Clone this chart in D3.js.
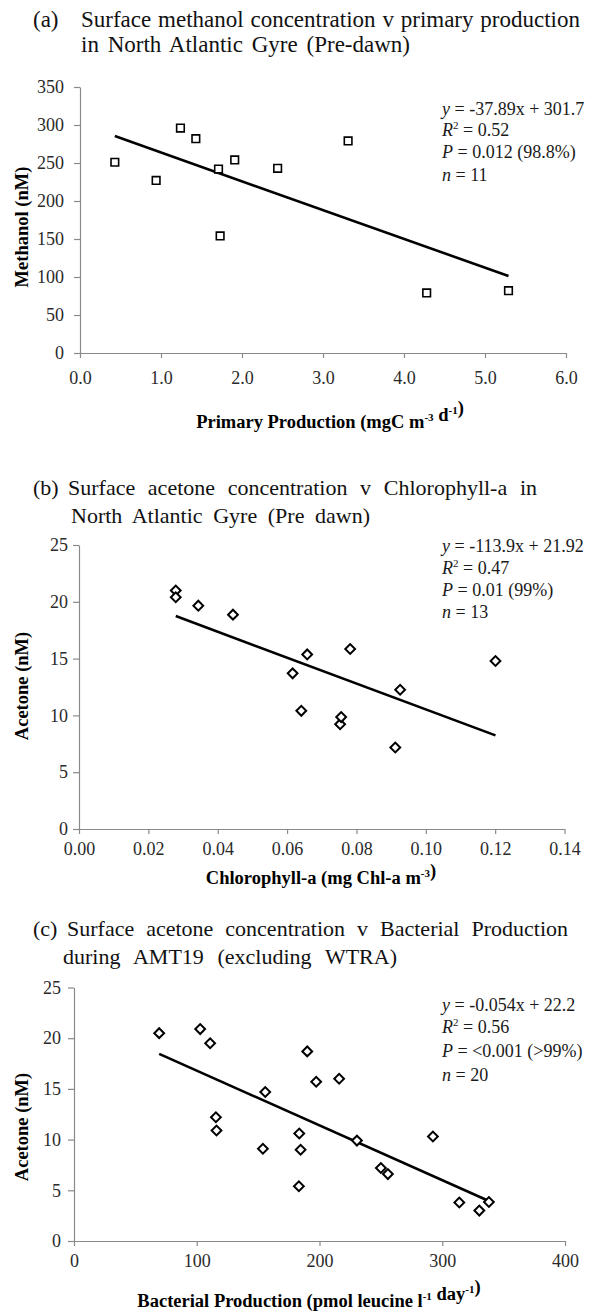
<!DOCTYPE html>
<html><head><meta charset="utf-8">
<script src="https://cdn.jsdelivr.net/npm/d3@7"></script>
<style>html,body{margin:0;padding:0;background:#fff;} svg{display:block;}</style>
</head><body><svg id="chart" width="593" height="1312"></svg>
<script>
// ---------- DATA ----------
// (a) methanol vs primary production
const ppValues = [0.43, 0.94, 1.24, 1.43, 1.71, 1.73, 1.91, 2.44, 3.31, 4.28, 5.29];
const methanolValues = [251, 227, 296, 282, 242, 154, 254, 243, 279, 79, 82];
const aXTicks = [0, 1, 2, 3, 4, 5, 6];
const aYTicks = [0, 50, 100, 150, 200, 250, 300, 350];
const aFit = [-37.89, 301.7];

// (b) acetone vs chlorophyll-a
const chlValues = [0.0279, 0.0279, 0.0344, 0.0444, 0.0616, 0.0641, 0.0658, 0.0753, 0.0756, 0.0782, 0.0912, 0.0926, 0.1201];
const acetoneBValues = [20.99, 20.4, 19.66, 18.87, 13.7, 10.4, 15.37, 9.23, 9.85, 15.85, 7.17, 12.26, 14.79];
const bXTicks = [0, 0.02, 0.04, 0.06, 0.08, 0.10, 0.12, 0.14];
const bYTicks = [0, 5, 10, 15, 20, 25];
const bFit = [-113.9, 21.92];

// (c) acetone vs bacterial production
const bpValues = [69.4, 102.8, 110.9, 115.6, 116.1, 153.9, 155.8, 183.2, 183.5, 184.6, 190, 197.3, 216, 230.5, 250, 255.7, 292.4, 313.9, 330.2, 338];
const acetoneCValues = [20.5, 20.9, 19.5, 12.2, 10.9, 9.1, 14.7, 5.4, 10.6, 9.0, 18.7, 15.7, 16.0, 9.9, 7.2, 6.6, 10.3, 3.8, 3.0, 3.85];
const cXTicks = [0, 100, 200, 300, 400];
const cYTicks = [0, 5, 10, 15, 20, 25];
const cFit = [-0.054, 22.2];

// texts
const aTitle = ["(a)", "Surface methanol concentration v primary production", "in North Atlantic Gyre (Pre-dawn)"];
const bTitle = ["(b)", "Surface acetone concentration v Chlorophyll-a in", "North Atlantic Gyre (Pre dawn)"];
const cTitle = ["(c)", "Surface acetone concentration v Bacterial Production", "during AMT19 (excluding WTRA)"];
const aStats = ["-37.89x + 301.7", "0.52", "0.012 (98.8%)", "11"];
const bStats = ["-113.9x + 21.92", "0.47", "0.01 (99%)", "13"];
const cStats = ["-0.054x + 22.2", "0.56", "<0.001 (>99%)", "20"];

// ---------- DRAW ----------
const SERIF = "'Liberation Serif','Times New Roman',serif";
const svg = d3.select("#chart");
svg.append("rect").attr("width", 593).attr("height", 1312).attr("fill", "#fff");
const AX = "#8a8a8a";

function drawTitle(t, L) {
  svg.append("text").attr("x", 33).attr("y", L.y1).style("font-family", SERIF)
    .style("font-size", L.fs + "px").attr("fill", "#111").text(t[0]);
  [[t[1], L.s1, L.e1, L.y1], [t[2], L.s2, L.e2, L.y2]].forEach(([txt, x0, x1, y]) => {
    const el = svg.append("text").attr("x", x0).attr("y", y).style("font-family", SERIF)
      .style("font-size", L.fs + "px").attr("fill", "#111").text(txt);
    const nat = el.node().getComputedTextLength();
    const n = (txt.match(/ /g) || []).length;
    if (n) el.attr("word-spacing", (x1 - x0 - nat) / n);
  });
}

function sup(el, base, s) {
  el.append("tspan").text(base);
  el.append("tspan").attr("dy", -7).style("font-size", "11px").text(s);
  el.append("tspan").attr("dy", 7).text("");
}

function drawPanel(P) {
  const x = d3.scaleLinear().domain(P.xDomain).range([P.left, P.right]);
  const y = d3.scaleLinear().domain(P.yDomain).range([P.bottom, P.top]);

  const gy = svg.append("g").attr("transform", `translate(${P.left},0)`)
    .call(d3.axisLeft(y).tickValues(P.yTicks).tickSize(6).tickSizeOuter(0)
      .tickPadding(P.yPad).tickFormat(d3.format("d")));
  const gx = svg.append("g").attr("transform", `translate(0,${P.bottom})`)
    .call(d3.axisBottom(x).tickValues(P.xTicks).tickSize(5).tickSizeOuter(0)
      .tickPadding(P.xPad).tickFormat(d3.format(P.xFmt)));
  [gx, gy].forEach(g => {
    g.select(".domain").attr("stroke", AX).attr("stroke-width", 1.2);
    g.selectAll(".tick line").attr("stroke", AX).attr("stroke-width", 1.2);
    g.selectAll(".tick text").style("font-family", SERIF).style("font-size", "18px").attr("fill", "#2a2a2a");
  });

  // trend line
  const ext = d3.extent(P.xs);
  svg.append("line")
    .attr("x1", x(ext[0])).attr("y1", y(P.fit[0] * ext[0] + P.fit[1]))
    .attr("x2", x(ext[1])).attr("y2", y(P.fit[0] * ext[1] + P.fit[1]))
    .attr("stroke", "#000").attr("stroke-width", 2.6);

  // markers
  const sym = d3.symbol().type(d3.symbolSquare).size(P.square ? 58 : 48);
  svg.append("g").selectAll("path").data(P.xs.map((v, i) => [v, P.ys[i]])).join("path")
    .attr("d", sym)
    .attr("transform", d => `translate(${x(d[0])},${y(d[1])})` + (P.square ? "" : " rotate(45)"))
    .attr("fill", "#fff").attr("stroke", "#000").attr("stroke-width", P.square ? 1.6 : 2);

  // y axis title
  svg.append("text").attr("transform", `translate(22,${P.yTitleY}) rotate(-90)`)
    .attr("text-anchor", "middle").attr("dy", "0.35em")
    .style("font-family", SERIF).style("font-weight", "bold").style("font-size", "18.5px")
    .text(P.yTitle);

  // x axis title
  const xt = svg.append("text").attr("x", P.xTitleX).attr("y", P.xTitleY).attr("text-anchor", "middle")
    .style("font-family", SERIF).style("font-weight", "bold").style("font-size", "18.5px");
  P.xTitle(xt);

  // stats annotation
  const labels = ["y", "R", "P", "n"];
  P.stats.forEach((s, i) => {
    const t = svg.append("text").attr("x", 442).attr("y", P.statY[i])
      .style("font-family", SERIF).style("font-size", "18px").attr("fill", "#1a1a1a");
    t.append("tspan").style("font-style", "italic").text(labels[i]);
    if (i === 1) {
      t.append("tspan").attr("dy", -7).style("font-size", "11px").text("2");
      t.append("tspan").attr("dy", 7).text(" = " + s);
    } else {
      t.append("tspan").text(" = " + s);
    }
  });
}

// Panel (a)
drawTitle(aTitle, {fs: 23, y1: 27, y2: 52, s1: 81, e1: 580, s2: 81, e2: 410});
drawPanel({
  xs: ppValues, ys: methanolValues, fit: aFit, square: true,
  xDomain: [0, 6], yDomain: [0, 350], xTicks: aXTicks, yTicks: aYTicks, xFmt: ".1f",
  left: 80, right: 566, top: 87, bottom: 353, yPad: 10, xPad: 13,
  yTitle: "Methanol (nM)", yTitleY: 227,
  xTitleX: 330, xTitleY: 428,
  xTitle: t => { t.append("tspan").text("Primary Production (mgC "); sup(t, "m", "-3"); t.append("tspan").text("  "); sup(t, "d", "-1"); t.append("tspan").text(")"); },
  stats: aStats, statY: [115, 136, 158, 181]
});

// Panel (b)
drawTitle(bTitle, {fs: 22, y1: 495, y2: 523, s1: 68, e1: 537, s2: 71, e2: 370});
drawPanel({
  xs: chlValues, ys: acetoneBValues, fit: bFit, square: false,
  xDomain: [0, 0.14], yDomain: [0, 25], xTicks: bXTicks, yTicks: bYTicks, xFmt: ".2f",
  left: 79, right: 564.5, top: 545, bottom: 829, yPad: 5, xPad: 8,
  yTitle: "Acetone (nM)", yTitleY: 686,
  xTitleX: 321, xTitleY: 884,
  xTitle: t => { t.append("tspan").text("Chlorophyll-a (mg Chl-a "); sup(t, "m", "-3"); t.append("tspan").text(")"); },
  stats: bStats, statY: [552, 574, 596, 618]
});

// Panel (c)
drawTitle(cTitle, {fs: 22, y1: 936, y2: 964, s1: 67, e1: 568, s2: 63, e2: 397});
drawPanel({
  xs: bpValues, ys: acetoneCValues, fit: cFit, square: false,
  xDomain: [0, 400], yDomain: [0, 25], xTicks: cXTicks, yTicks: cYTicks, xFmt: "d",
  left: 74, right: 565, top: 987.5, bottom: 1241, yPad: 7, xPad: 8,
  yTitle: "Acetone (nM)", yTitleY: 1127,
  xTitleX: 309, xTitleY: 1307,
  xTitle: t => { t.append("tspan").text("Bacterial Production (pmol leucine "); sup(t, "l", "-1"); t.append("tspan").text(" "); sup(t, "day", "-1"); t.append("tspan").text(")"); },
  stats: cStats, statY: [1011, 1033, 1057, 1081]
});
</script>
</body></html>
